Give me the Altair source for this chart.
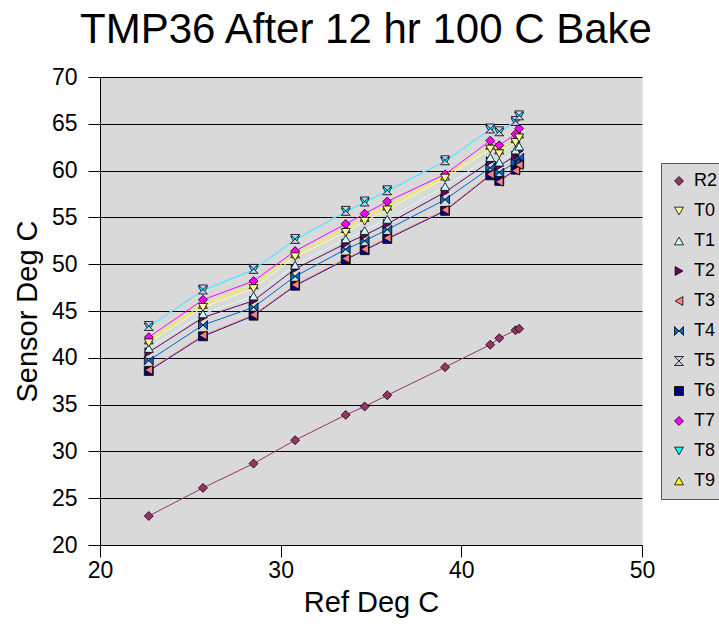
import altair as alt
import pandas as pd

# Reference temperature (x) for each measurement
ref_x = [22.7, 25.7, 28.5, 30.8, 33.6, 34.65, 35.9, 39.1, 41.6, 42.1, 43.0, 43.2]

# Sensor readings per series
r2 = [23.1, 26.1, 28.7, 31.2, 33.9, 34.8, 36.0, 39.0, 41.4, 42.1, 42.95, 43.1]
t0 = [41.6, 45.4, 47.4, 50.8, 53.4, 54.6, 55.8, 59.2, 62.3, 61.8, 63.0, 63.5]
t1 = [41.0, 44.7, 46.6, 49.9, 52.7, 53.6, 54.8, 58.3, 61.4, 60.9, 62.2, 62.6]
t2 = [40.6, 44.3, 46.1, 49.5, 52.2, 53.1, 54.3, 57.7, 61.0, 60.5, 61.6, 62.1]
t3 = [38.7, 42.4, 44.6, 47.8, 50.6, 51.6, 52.8, 55.8, 59.6, 58.8, 60.0, 60.6]
t4 = [39.7, 43.5, 45.4, 48.7, 51.6, 52.5, 53.7, 56.9, 60.3, 59.8, 60.9, 61.4]
t5 = [43.4, 47.3, 49.5, 52.7, 55.7, 56.7, 57.9, 61.1, 64.5, 64.2, 65.3, 65.9]
t6 = [38.6, 42.3, 44.5, 47.7, 50.5, 51.5, 52.7, 55.7, 59.5, 58.9, 60.1, 60.7]
t7 = [42.2, 46.2, 48.2, 51.4, 54.3, 55.4, 56.7, 59.6, 63.2, 62.7, 63.9, 64.5]
t8 = [43.3, 47.2, 49.4, 52.6, 55.6, 56.6, 57.8, 61.0, 64.4, 64.1, 65.2, 65.8]
t9 = [41.9, 45.7, 47.8, 51.1, 53.8, 55.0, 56.2, 59.4, 62.7, 62.2, 63.4, 63.9]

series_names = ["R2", "T0", "T1", "T2", "T3", "T4", "T5", "T6", "T7", "T8", "T9"]
series_values = [r2, t0, t1, t2, t3, t4, t5, t6, t7, t8, t9]
series_colors = ["#993366", "#FFFF99", "#CCFFFF", "#660066", "#FF8080", "#0066CC",
                 "#CCCCFF", "#000080", "#FF00FF", "#00FFFF", "#FFFF00"]
bowtie = "M-1,-1L0,0L-1,1ZM1,-1L0,0L1,1Z"
hourglass = "M-1,-1L1,-1L0,0ZM-1,1L1,1L0,0Z"
series_shapes = ["diamond", "triangle-down", "triangle-up", "triangle-right", "triangle-left",
                 bowtie, hourglass, "square", "diamond", "triangle-down", "triangle-up"]

rows = []
# later series first so that earlier series' markers are drawn on top
for name, vals in reversed(list(zip(series_names, series_values))):
    for xv, yv in zip(ref_x, vals):
        rows.append({"series": name, "line_series": name, "ref": xv, "sensor": yv})
df = pd.DataFrame(rows)

FONT = "Liberation Sans"

x_enc = alt.X("ref:Q", title="Ref Deg C",
              scale=alt.Scale(domain=[20, 50], nice=False, zero=False),
              axis=alt.Axis(values=[20, 30, 40, 50], grid=False, tickSize=12,
                            labelFlush=False, labelPadding=2, titleY=66,
                            titleBaseline="alphabetic"))
y_enc = alt.Y("sensor:Q", title="Sensor Deg C",
              scale=alt.Scale(domain=[20, 70], nice=False, zero=False),
              axis=alt.Axis(values=list(range(20, 71, 5)), grid=True, tickSize=12,
                            labelFlush=False, labelPadding=11, titleX=-64, titleY=234,
                            titleBaseline="alphabetic"))

# line colours: separate field (sorted R2, T0..T9) so its hidden legend stays separate
lines = alt.Chart(df).mark_line(strokeWidth=1).encode(
    x=x_enc,
    y=y_enc,
    stroke=alt.Stroke("line_series:N", scale=alt.Scale(range=series_colors), legend=None),
    detail="line_series:N",
)

legend_def = alt.Legend(title=None, orient="none", legendX=561, legendY=86)

points = alt.Chart(df).mark_point(filled=False, stroke="black", strokeWidth=0.8,
                                  size=80, opacity=1, fillOpacity=1).encode(
    x=x_enc,
    y=y_enc,
    fill=alt.Fill("series:N", scale=alt.Scale(domain=series_names, range=series_colors),
                  legend=legend_def),
    shape=alt.Shape("series:N", scale=alt.Scale(domain=series_names, range=series_shapes),
                    legend=legend_def),
)

chart = alt.layer(lines, points).properties(
    width=542,
    height=468,
    autosize=alt.AutoSizeParams(type="none"),
    padding={"left": 100, "top": 77, "right": 77, "bottom": 96},
    title=alt.Title("TMP36 After 12 hr 100 C Bake", fontSize=42, font=FONT,
                    fontWeight="normal", color="black", anchor="middle",
                    offset=14, dx=-5),
).configure_view(
    fill="#D9D9D9", stroke="transparent"
).configure_axis(
    labelFont=FONT, titleFont=FONT, labelFontSize=23, titleFontSize=29,
    labelColor="black", titleColor="black", titleFontWeight="normal",
    domainColor="black", domainWidth=1, tickColor="black", tickWidth=1,
    gridColor="black", gridWidth=1, gridOpacity=1,
).configure_legend(
    fillColor="#D9D9D9", strokeColor="#555555", padding=9,
    labelFont=FONT, labelFontSize=18, labelColor="black", labelOffset=6,
    symbolSize=80, symbolStrokeWidth=0.8,
    rowPadding=12, symbolOpacity=1,
)

chart.save("out.html", embed_options={"renderer": "svg", "actions": False})
